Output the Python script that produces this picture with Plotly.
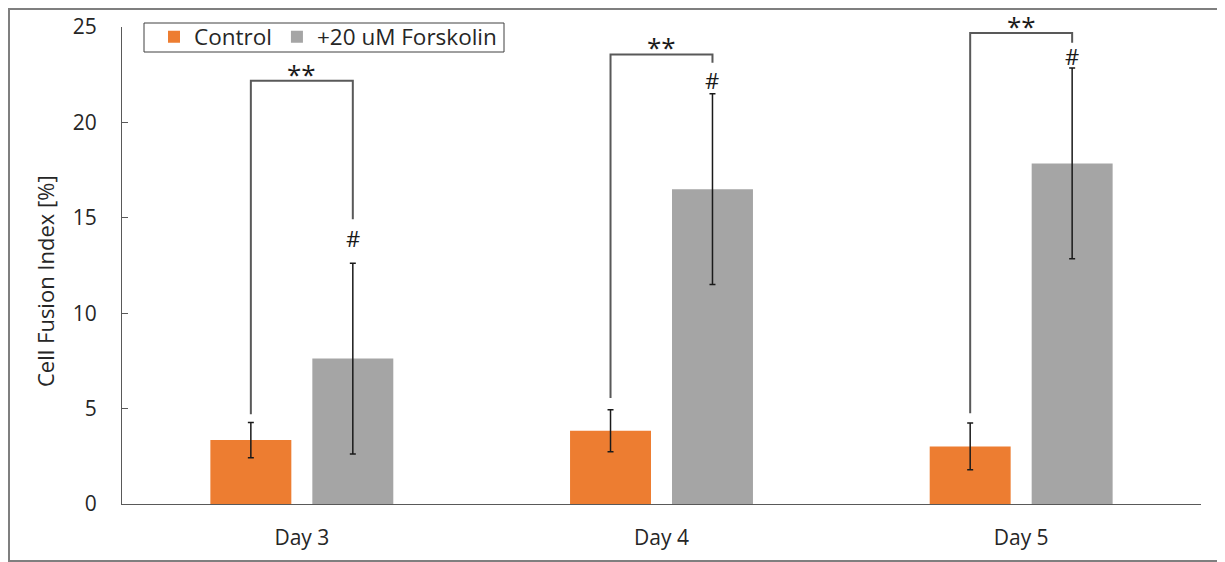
import plotly.graph_objects as go

categories = ["Day 3", "Day 4", "Day 5"]
control = [3.35, 3.84, 3.02]
control_err = [0.92, 1.1, 1.22]
forskolin = [7.62, 16.5, 17.85]
forskolin_err = [5.0, 5.0, 5.0]

# significance brackets (y values)
bracket_top = [22.18, 23.56, 24.69]
bracket_left_end = [4.71, 5.55, 4.76]
bracket_right_end = [14.92, 23.12, 24.17]
hash_y = [13.94, 22.2, 23.5]
star_label = "**"
hash_label = "#"
y_title = "Cell Fusion Index [%]"

FONT = "Open Sans"
ORANGE = "#ED7D31"
GRAY = "#A5A5A5"

W, H = 1225, 562
ML, MR, MT, MB = 114, 32, 19, 66
PW, PH = W - ML - MR, H - MT - MB


def px(fx):
    return (fx - ML) / PW


def py(fy):
    return (MT + PH - fy) / PH


bargap = 0.433
bargroupgap = 0.206
xpos = list(range(len(categories)))
off = (1 - bargap) / 4.0

fig = go.Figure()
fig.add_trace(go.Bar(
    x=xpos, y=control, name="Control", marker=dict(color=ORANGE, line=dict(width=0)),
    error_y=dict(type="data", array=control_err, color="#1a1a1a", thickness=1.5, width=3),
))
fig.add_trace(go.Bar(
    x=xpos, y=forskolin, name="+20 uM Forskolin", marker=dict(color=GRAY, line=dict(width=0)),
    error_y=dict(type="data", array=forskolin_err, color="#1a1a1a", thickness=1.5, width=3),
))

shapes = []
annotations = []
line_style = dict(color="#595959", width=2)
for i in xpos:
    xl, xr = i - off, i + off
    path = f"M {xl},{bracket_left_end[i]} L {xl},{bracket_top[i]} L {xr},{bracket_top[i]} L {xr},{bracket_right_end[i]}"
    shapes.append(dict(type="path", xref="x", yref="y", path=path, line=line_style, layer="above"))
    annotations.append(dict(x=i, y=bracket_top[i], xref="x", yref="y", text=star_label, showarrow=False,
                            yanchor="bottom", yshift=-12, borderpad=0,
                            font=dict(family=FONT, size=26, color="#1a1a1a")))
    annotations.append(dict(x=xr, y=hash_y[i], xref="x", yref="y", text=hash_label, showarrow=False,
                            yanchor="middle", font=dict(family=FONT, size=22, color="#1a1a1a")))

# outer frame
shapes.append(dict(type="rect", xref="paper", yref="paper",
                   x0=px(1), x1=px(W + 20), y0=py(553), y1=py(1),
                   line=dict(color="#7f7f7f", width=2), layer="below"))
# legend box
shapes.append(dict(type="rect", xref="paper", yref="paper",
                   x0=px(136), x1=px(496), y0=py(44), y1=py(15),
                   line=dict(color="#404040", width=1), fillcolor="white", layer="below"))

# y-axis title as rotated text
annotations.append(dict(x=px(37), y=py(273), xref="paper", yref="paper", text=y_title, showarrow=False,
                        textangle=-90, xanchor="center", yanchor="middle",
                        font=dict(family=FONT, size=22, color="#262626")))

fig.update_layout(
    width=W, height=H,
    margin=dict(l=ML, r=MR, t=MT, b=MB, autoexpand=False),
    paper_bgcolor="white", plot_bgcolor="white",
    barmode="group", bargap=bargap, bargroupgap=bargroupgap,
    font=dict(family=FONT, size=21, color="#262626"),
    showlegend=True,
    legend=dict(orientation="h", x=px(146), y=py(7.5), xanchor="left", yanchor="top",
                bgcolor="rgba(0,0,0,0)", borderwidth=0,
                font=dict(family=FONT, size=22.5, color="#262626"),
                itemwidth=30, tracegroupgap=0),
    xaxis=dict(range=[-0.5, 2.5], tickmode="array", tickvals=xpos, ticktext=categories,
               showline=True, linecolor="#595959", linewidth=1, ticks="", showgrid=False,
               zeroline=False, tickfont=dict(size=21), automargin=False, ticklabelstandoff=15),
    yaxis=dict(range=[0, 25], tickvals=[0, 5, 10, 15, 20, 25], showline=True, linecolor="#595959",
               linewidth=1, ticks="inside", ticklen=6, tickcolor="#595959", showgrid=False,
               zeroline=False, tickfont=dict(size=21), ticklabelstandoff=20, automargin=False),
    shapes=shapes, annotations=annotations,
)

fig.write_html("out.html")
